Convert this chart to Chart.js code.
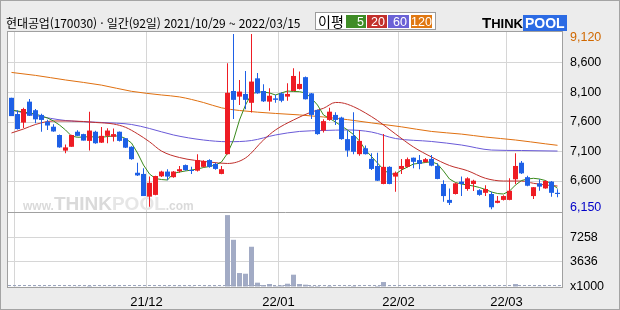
<!DOCTYPE html>
<html lang="ko">
<head>
<meta charset="utf-8">
<title>현대공업(170030) 일간</title>
<script src="https://cdn.jsdelivr.net/npm/chart.js@4.4.0/dist/chart.umd.min.js"></script>
<style>
  html, body { margin: 0; padding: 0; background: #ececec; }
  #wrap { position: relative; width: 620px; height: 310px; overflow: hidden; background: #ececec; }
  #chart { position: absolute; left: 0; top: 0; }
  #frame { position: absolute; left: 0; top: 0; width: 620px; height: 310px; box-sizing: border-box;
           border: 1px solid #a4a4a4; pointer-events: none; }
  #title { position: absolute; left: 6px; top: 14px; font: 12px "Noto Sans CJK KR", sans-serif;
           color: #000; white-space: nowrap; letter-spacing: -0.1px; }
  #legend { position: absolute; left: 315px; top: 12px; width: 119px; height: 16px; background: #fff;
            border: 1px solid #9c9c9c; font: 13px "Noto Sans CJK KR", sans-serif; }
  #legend span { position: absolute; top: 2px; height: 13px; line-height: 13px; color: #fff;
                 text-align: right; font: 12.5px "Liberation Sans", sans-serif; padding-right: 2px; box-sizing: border-box; }
  #legend .lbl { color: #000; left: 2px; width: 28px; text-align: left; font: 14px "Noto Sans CJK KR", sans-serif; top: 0px; line-height: 16px; }
  #logo { position: absolute; left: 482px; top: 14px; height: 14px; white-space: nowrap;
          font: bold 13px "Liberation Sans", sans-serif; color: #000; }
  #logo .big { font-size: 15px; }
  #logo .pool { background: #2c6be4; color: #fff; padding: 0 2px; font-size: 14px; }
</style>
</head>
<body>
<div id="wrap">
  <canvas id="chart" width="620" height="310"></canvas>
  <div id="title">현대공업(170030) · 일간(92일) 2021/10/29 ~ 2022/03/15</div>
  <div id="legend">
    <span class="lbl">이평</span>
    <span style="left:30px;width:20px;background:#3f8c26">5</span>
    <span style="left:51px;width:20px;background:#c2302c">20</span>
    <span style="left:72px;width:21px;background:#6b62d6">60</span>
    <span style="left:95px;width:21px;background:#e07812">120</span>
  </div>
  <div id="logo"><span class="big">T</span>HINK<span class="pool">POOL</span></div>
  <div id="frame"></div>
</div>
<script>
// 일봉 자료 (2021/10/29 ~ 2022/03/15, 92일)
const opens = [8010,7735,7590,7945,7800,7720,7605,7520,7380,7115,
  7180,7435,7395,7280,7435,7250,7365,7350,7435,7325,
  7180,6740,6720,6335,6365,6680,6760,6665,6765,6870,
  6785,6775,6840,6955,6890,6720,7055,8125,8030,8075,
  7925,8340,8125,7945,8000,8085,8030,8125,8160,8360,
  8085,7805,7455,7635,7720,7675,7310,7365,7055,7155,
  6975,6855,6550,6840,6675,6805,6840,6995,6955,6920,
  6975,6855,6550,6280,6380,6590,6465,6550,6445,6400,
  6380,6230,6280,6280,6630,6910,6665,6345,6560,6475,
  6590,6400];
const highs = [8010,7800,7840,7990,7820,7740,7640,7560,7390,7220,
  7385,7460,7400,7775,7450,7515,7495,7490,7440,7330,
  7190,6910,6815,6675,6690,6775,6800,6770,6855,6880,
  6840,7055,6950,6970,6910,6855,8595,9090,8310,8465,
  9090,8430,8240,8170,8060,8105,8255,8510,8455,8370,
  8090,7810,7645,7840,7765,7690,7455,7765,7465,7200,
  7070,7080,7395,6850,6760,6975,7000,7000,7040,6990,
  7040,6900,6615,6475,6570,6675,6665,6620,6460,6530,
  6420,6345,6360,6645,7070,6940,6690,6500,6630,6615,
  6600,6460];
const lows = [7700,7475,7500,7700,7580,7435,7465,7435,7165,7070,
  7180,7360,7285,7115,7230,7245,7240,7270,7270,7160,
  6960,6685,6345,6165,6360,6670,6615,6655,6740,6775,
  6720,6760,6830,6825,6790,6715,7050,7650,7890,7815,
  7760,8080,7940,7790,7925,7935,7960,8120,8150,7980,
  7650,7385,7420,7620,7550,7300,7010,7055,7030,7050,
  6785,6600,6545,6545,6420,6720,6830,6815,6800,6910,
  6850,6630,6250,6195,6370,6345,6435,6430,6350,6345,
  6120,6225,6270,6275,6545,6720,6510,6295,6435,6470,
  6335,6325];
const closes = [7700,7480,7820,7705,7645,7635,7540,7440,7170,7170,
  7380,7365,7285,7455,7240,7365,7455,7395,7280,7165,
  6970,6695,6345,6570,6685,6760,6675,6760,6800,6785,
  6770,6955,6940,6840,6805,6800,8095,7975,8115,7975,
  8285,8085,7950,8045,7975,7960,8075,8380,8245,7985,
  7720,7395,7615,7775,7635,7310,7115,7095,7280,7055,
  6805,6605,6840,6550,6740,6855,6970,6925,6890,6970,
  6860,6635,6345,6230,6560,6550,6645,6605,6365,6465,
  6155,6265,6345,6435,6855,6730,6520,6495,6505,6600,
  6400,6380];
// 거래량 (천주)
const volumes = [60,50,70,60,50,40,50,60,70,60,
  50,40,50,150,60,50,50,40,50,60,
  70,60,80,70,60,50,40,50,40,50,
  40,70,50,40,40,50,10450,6860,2030,1930,
  5850,630,290,440,150,240,480,1790,440,340,
  150,150,90,150,80,90,100,150,90,70,
  90,150,720,90,60,80,70,60,50,50,
  60,80,90,70,60,50,50,60,50,40,
  90,50,60,80,430,90,60,50,40,50,
  60,50];
// 이동평균
const ma5 = [7803,7786,7770,7753,7736,7702,7668,7617,7549,7465,
  7363,7341,7346,7351,7346,7341,7354,7363,7363,7320,
  7244,7075,6871,6719,6642,6625,6617,6730,6752,6770,
  6786,6803,6829,6846,6871,6922,7070,7295,7634,7888,
  8075,8109,8109,8092,8058,8092,8125,8117,8114,8092,
  8002,7888,7719,7660,7600,7532,7465,7388,7278,7125,
  7015,6905,6795,6719,6719,6786,6837,6888,6900,6914,
  6927,6888,6770,6634,6575,6549,6532,6515,6490,6456,
  6414,6388,6380,6430,6532,6608,6634,6646,6634,6608,
  6549,6476];
const ma20 = [[0,7414],[2,7481],[4,7558],[7,7617],[10,7617],[14,7592],[17,7566],[19,7510],
  [21,7400],[23,7265],[25,7108],[28,6998],[33,6922],[36,6897],[39,6990],[42,7295],[44,7465],
  [47,7634],[50,7770],[52,7832],[54,7931],[55,7926],[57,7860],[59,7753],[61,7625],[64,7397],
  [67,7176],[70,7007],[73,6863],[76,6775],[79,6646],[82,6600],[85,6600],[87,6561],[89,6532],[91,6515]];
const ma60 = [[0,7803],[4,7710],[9,7625],[15,7592],[20,7558],[23,7490],[27,7380],[32,7295],
  [36,7266],[40,7286],[44,7380],[48,7440],[52,7456],[56,7465],[60,7430],[64,7320],[70,7270],
  [75,7210],[80,7125],[85,7117],[91,7108]];
const ma120 = [[0,8440],[4,8390],[9,8312],[15,8225],[20,8120],[25,8058],[28,8025],[32,7930],
  [35,7840],[38,7795],[44,7745],[48,7720],[52,7685],[56,7640],[60,7585],[65,7518],[70,7440],
  [75,7395],[79,7345],[84,7295],[89,7230],[91,7205]];

const priceTicks = [9120, 8600, 8100, 7600, 7100, 6600, 6150];
const volumeTicks = [7258, 3636, 0];
const monthStarts = [1, 23, 45, 65, 83];
const monthLabels = ['', '21/12', '22/01', '22/02', '22/03'];

const UP = '#ee1c24', DOWN = '#1e60e6';
const isUp = i => closes[i] >= opens[i];
const days = closes.map((c, i) => i);
const toPts = arr => arr.map(p => ({x: p[0], y: p[1]}));
const tickFont = {family: '"Liberation Sans", sans-serif', size: 12.5};

const panelDeco = {
  id: 'panelDeco',
  beforeDraw(chart) {
    const {ctx, chartArea: a} = chart;
    ctx.save();
    ctx.fillStyle = '#ffffff';
    ctx.fillRect(a.left, a.top, a.width, a.height);
    ctx.restore();
  },
  beforeDatasetsDraw(chart) {
    // 워터마크
    const {ctx, chartArea: a, scales} = chart;
    const base = scales.y.bottom - 2;
    let x = a.left + 15;
    ctx.save();
    ctx.fillStyle = '#dadada';
    ctx.font = 'bold 12px "Liberation Sans"';
    ctx.fillText('www.', x, base); x += ctx.measureText('www.').width;
    ctx.font = 'bold 19px "Liberation Sans"';
    ctx.fillText('THINK', x, base); x += ctx.measureText('THINK').width;
    ctx.fillStyle = '#e6e6e6';
    ctx.fillText('POOL', x, base); x += ctx.measureText('POOL').width;
    ctx.fillStyle = '#dadada';
    ctx.font = 'bold 12px "Liberation Sans"';
    ctx.fillText('.com', x, base);
    ctx.restore();
  },
  afterDraw(chart) {
    const {ctx, chartArea: a, scales} = chart;
    ctx.save();
    // 거래량 기준선
    const y0 = Math.round(scales.vol.getPixelForValue(0)) - 1.5;
    ctx.strokeStyle = '#9aa4bc';
    ctx.setLineDash([3, 2]);
    ctx.beginPath(); ctx.moveTo(a.left, y0); ctx.lineTo(a.right, y0); ctx.stroke();
    ctx.setLineDash([]);
    ctx.strokeStyle = '#a0a0a0';
    ctx.strokeRect(a.left - 0.5, a.top - 0.5, a.width + 1, a.height + 1);
    const sep = Math.round(scales.vol.top) + 0.5;
    ctx.beginPath(); ctx.moveTo(a.left, sep); ctx.lineTo(a.right + 1, sep); ctx.stroke();
    ctx.restore();
  }
};

const ctx = document.getElementById('chart').getContext('2d');
const myChart = new Chart(ctx, {
  type: 'bar',
  data: {
    datasets: [
      {
        label: '몸통',
        data: days.map(i => ({x: i, y: [opens[i], closes[i]]})),
        backgroundColor: days.map(i => isUp(i) ? UP : DOWN),
        barThickness: 5, minBarLength: 1, grouped: false, inflateAmount: 0,
        yAxisID: 'y', order: 1
      },
      {
        label: '꼬리',
        data: days.map(i => ({x: i, y: [lows[i], highs[i]]})),
        backgroundColor: days.map(i => isUp(i) ? UP : DOWN),
        barThickness: 1, grouped: false, inflateAmount: 0,
        yAxisID: 'y', order: 2
      },
      {
        type: 'line', label: '5', data: days.map(i => ({x: i, y: ma5[i]})),
        borderColor: '#3a8a1c', borderWidth: 1, pointRadius: 0, yAxisID: 'y', order: 3
      },
      {
        type: 'line', label: '20', data: toPts(ma20), cubicInterpolationMode: 'monotone',
        borderColor: '#c0302c', borderWidth: 1, pointRadius: 0, yAxisID: 'y', order: 3
      },
      {
        type: 'line', label: '60', data: toPts(ma60), cubicInterpolationMode: 'monotone',
        borderColor: '#6a5ad8', borderWidth: 1, pointRadius: 0, yAxisID: 'y', order: 3
      },
      {
        type: 'line', label: '120', data: toPts(ma120), cubicInterpolationMode: 'monotone',
        borderColor: '#e07010', borderWidth: 1, pointRadius: 0, yAxisID: 'y', order: 3
      },
      {
        label: '거래량',
        data: days.map(i => ({x: i, y: volumes[i]})),
        backgroundColor: '#a2abc5',
        barThickness: 5, grouped: false, inflateAmount: 0,
        yAxisID: 'vol', order: 4
      }
    ]
  },
  options: {
    responsive: false,
    devicePixelRatio: 1,
    animation: false,
    layout: { padding: { left: 8, top: 32, right: 0, bottom: 0 } },
    plugins: { legend: { display: false }, tooltip: { enabled: false } },
    scales: {
      x: {
        type: 'linear', min: -0.5833, max: 91.75, offset: false,
        afterBuildTicks: s => { s.ticks = monthStarts.map(v => ({value: v - 0.5})); },
        afterFit: s => { s.height = 23; },
        ticks: { callback: (v, i) => monthLabels[i], color: '#000', font: {family: '"Liberation Sans", sans-serif', size: 13},
                 padding: 8, maxRotation: 0, autoSkip: false },
        grid: { color: '#d6d6d6', drawTicks: false, offset: false },
        border: { display: false }
      },
      y: {
        type: 'linear', position: 'right', stack: 'panel', stackWeight: 180,
        min: 6075, max: 9125,
        afterBuildTicks: s => { s.ticks = priceTicks.map(v => ({value: v})); },
        afterFit: s => { s.width = 58; },
        ticks: {
          callback: v => v === 9120 ? ['', v.toLocaleString('en-US')] : v.toLocaleString('en-US'),
          color: c => c.tick.value === 9120 ? '#d06800' : (c.tick.value === 6150 ? '#0000c8' : '#000'),
          font: c => c.tick && c.tick.value === 9120 ? Object.assign({lineHeight: '10px'}, tickFont) : tickFont,
          padding: 8, autoSkip: false
        },
        grid: { color: c => (c.tick && (c.tick.value === 9120 || c.tick.value === 6150)) ? 'rgba(0,0,0,0)' : '#d6d6d6', drawTicks: false },
        border: { display: false }
      },
      vol: {
        type: 'linear', position: 'right', stack: 'panel', stackWeight: 75,
        min: 0, max: 10900,
        afterBuildTicks: s => { s.ticks = volumeTicks.map(v => ({value: v})); },
        afterFit: s => { s.width = 58; },
        ticks: { callback: v => v === 0 ? 'x1000' : String(v), color: '#000', font: tickFont, padding: 8, autoSkip: false },
        grid: { color: c => (c.tick && c.tick.value === 0) ? 'rgba(0,0,0,0)' : '#d6d6d6', drawTicks: false },
        border: { display: false }
      }
    }
  },
  plugins: [panelDeco]
});
</script>
</body>
</html>
